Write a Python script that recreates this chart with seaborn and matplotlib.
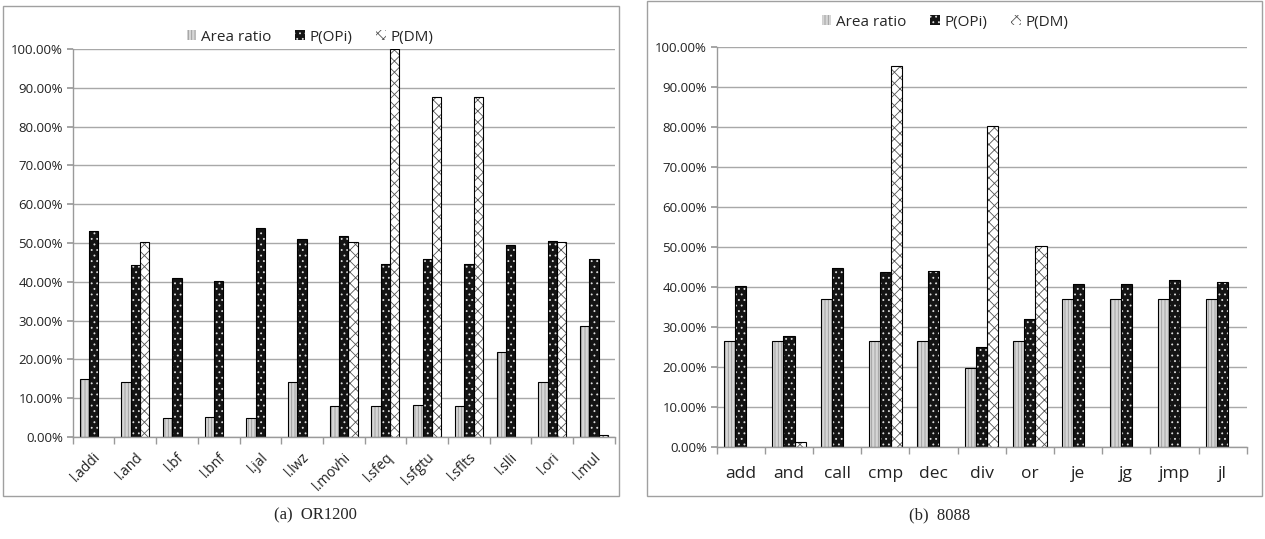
import matplotlib
matplotlib.use("Agg")
import matplotlib.pyplot as plt
import matplotlib.patches as mpatches
import matplotlib.ticker as mticker
import numpy as np
import pandas as pd
import seaborn as sns

# OR1200 panel (values in %)
or_labels = ['l.addi', 'l.and', 'l.bf', 'l.bnf', 'l.jal', 'l.lwz', 'l.movhi',
             'l.sfeq', 'l.sfgtu', 'l.sflts', 'l.slli', 'l.ori', 'l.mul']
or_area = [14.9, 14.3, 4.8, 5.2, 4.8, 14.3, 8.0, 8.0, 8.2, 8.0, 22.0, 14.3, 28.6]
or_opi = [53.1, 44.3, 40.9, 40.3, 53.8, 50.9, 51.9, 44.6, 45.8, 44.6, 49.5, 50.6, 45.8]
or_dm = [0, 50.3, 0, 0, 0, 0, 50.3, 100.0, 87.7, 87.7, 0, 50.3, 0.5]

# 8088 panel (values in %)
x86_labels = ['add', 'and', 'call', 'cmp', 'dec', 'div', 'or', 'je', 'jg', 'jmp', 'jl']
x86_area = [26.5, 26.5, 36.9, 26.5, 26.5, 19.6, 26.5, 36.9, 36.9, 36.9, 36.9]
x86_opi = [40.3, 27.7, 44.6, 43.7, 44.0, 25.0, 32.0, 40.7, 40.7, 41.8, 41.2]
x86_dm = [0, 1.1, 0, 95.2, 0, 80.2, 50.2, 0, 0, 0, 0]

series = ['Area ratio', 'P(OPi)', 'P(DM)']
# face colour, hatch colour, hatch
styles = {
    'Area ratio': ('#d6d6d6', '#999999', '|||||'),
    'P(OPi)': ('#141414', '#e0e0e0', '...'),
    'P(DM)': ('#ffffff', '#555555', 'xxx'),
}

sns.set_theme(style="white")
plt.rcParams['font.family'] = ['Open Sans', 'DejaVu Sans']
plt.rcParams['hatch.linewidth'] = 0.6


def to_long(labels, area, opi, dm):
    rows = []
    for vals, name in zip([area, opi, dm], series):
        for lab, v in zip(labels, vals):
            rows.append({'op': lab, 'series': name, 'value': v if v > 0 else np.nan})
    return pd.DataFrame(rows)


def draw_panel(ax, df, labels, width, rot, xfs):
    sns.barplot(data=df, x='op', y='value', hue='series', order=labels,
                hue_order=series, width=width, legend=False, ax=ax, errorbar=None)
    for cont, name in zip(ax.containers, series):
        face, hcol, hatch = styles[name]
        for p in cont.patches:
            p.set_facecolor(face)
            p.set_edgecolor(hcol)
            p.set_hatch(hatch)
            p.set_linewidth(0)
            ax.add_patch(mpatches.Rectangle(p.get_xy(), p.get_width(), p.get_height(),
                                            fill=False, edgecolor='black', linewidth=0.8,
                                            zorder=p.get_zorder() + 0.1))
    ax.set_ylim(0, 100)
    ax.set_xlim(-0.5, len(labels) - 0.5)
    ax.yaxis.set_major_locator(mticker.MultipleLocator(10))
    ax.yaxis.set_major_formatter(mticker.FuncFormatter(lambda v, _: f'{v:.2f}%'))
    ax.grid(axis='y', color='#a8a8a8', linewidth=1)
    ax.set_axisbelow(True)
    for s in ['top', 'right']:
        ax.spines[s].set_visible(False)
    for s in ['left', 'bottom']:
        ax.spines[s].set_color('#9a9a9a')
        ax.spines[s].set_linewidth(1)
    ax.set_xlabel('')
    ax.set_ylabel('')
    ax.tick_params(axis='y', left=True, length=4, color='#9a9a9a', labelsize=9.5,
                   labelcolor='#222222', pad=3)
    ax.set_xticks(range(len(labels)))
    ax.set_xticks(np.arange(-0.5, len(labels)), minor=True)
    ax.tick_params(axis='x', which='major', length=0, labelsize=xfs, labelcolor='#222222',
                   pad=9 if rot else 14)
    ax.tick_params(axis='x', which='minor', bottom=True, length=5, color='#9a9a9a')
    if rot:
        ax.set_xticklabels(labels, rotation=rot, ha='right', rotation_mode='anchor')
    else:
        ax.set_xticklabels(labels)


fig = plt.figure(figsize=(12.65, 5.39), dpi=100)

# panel frames
fig.patches.append(mpatches.Rectangle((0.0024, 0.080), 0.487, 0.909, transform=fig.transFigure,
                                      fill=False, edgecolor='#a0a0a0', linewidth=1))
fig.patches.append(mpatches.Rectangle((0.5115, 0.080), 0.486, 0.918, transform=fig.transFigure,
                                      fill=False, edgecolor='#a0a0a0', linewidth=1))

ax1 = fig.add_axes([0.0575, 0.1892, 0.4285, 0.72])
draw_panel(ax1, to_long(or_labels, or_area, or_opi, or_dm), or_labels, 0.67, 45, 10)

ax2 = fig.add_axes([0.5666, 0.1712, 0.419, 0.742])
draw_panel(ax2, to_long(x86_labels, x86_area, x86_opi, x86_dm), x86_labels, 0.69, 0, 12.5)

handles = [mpatches.Patch(facecolor=styles[n][0], edgecolor=styles[n][1], hatch=styles[n][2],
                          linewidth=0, label=n) for n in series]
fig.legend(handles=handles, loc='center', bbox_to_anchor=(0.245, 0.931), ncol=3,
           frameon=False, fontsize=11, handlelength=0.6, handleheight=0.6,
           handletextpad=0.3, columnspacing=1.6)
fig.legend(handles=handles, loc='center', bbox_to_anchor=(0.747, 0.959), ncol=3,
           frameon=False, fontsize=11, handlelength=0.6, handleheight=0.6,
           handletextpad=0.3, columnspacing=1.6)

fig.text(0.249, 0.044, '(a)  OR1200', ha='center', va='center', fontsize=12,
         family='Liberation Serif')
fig.text(0.743, 0.044, '(b)  8088', ha='center', va='center', fontsize=12,
         family='Liberation Serif')

fig.savefig('out.png', dpi=100)
